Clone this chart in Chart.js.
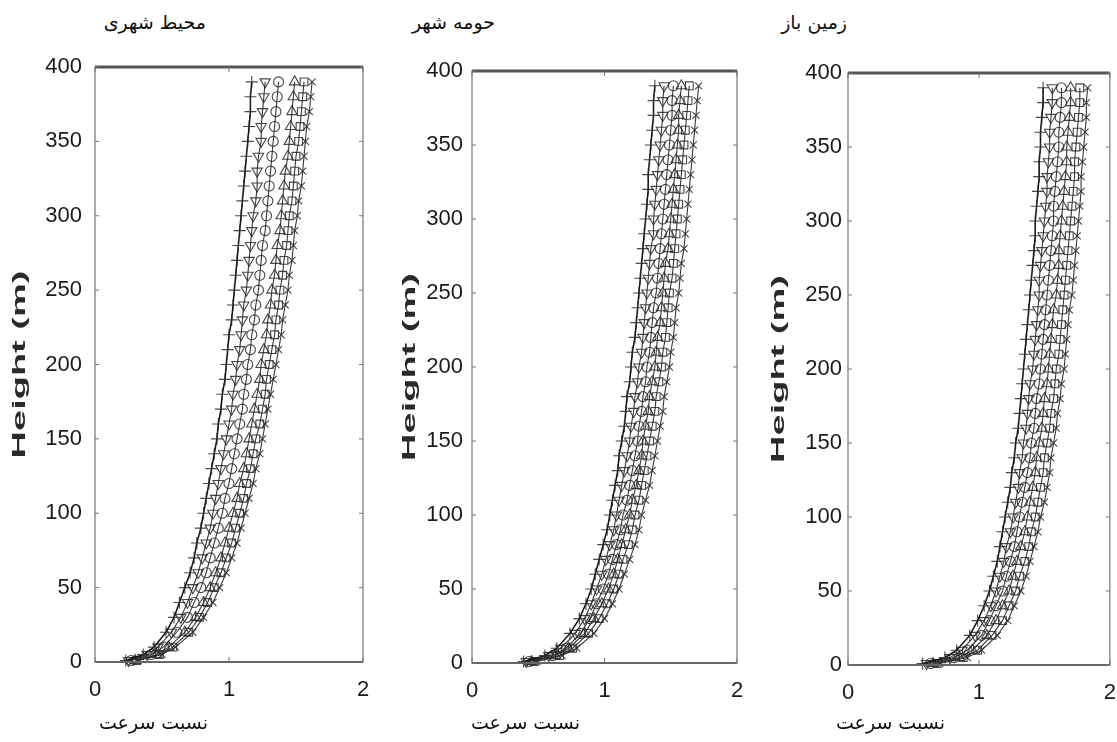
<!DOCTYPE html>
<html lang="fa">
<head>
  <meta charset="UTF-8" />
  <title>Height profiles - velocity ratio</title>
  <script src="https://cdn.jsdelivr.net/npm/chart.js@4.4.0/dist/chart.umd.min.js"></script>
  <style>
    body { margin: 0; background: #fff; }
    #page { position: relative; width: 1117px; height: 742px; overflow: hidden; background: #fff; }
    #page canvas { position: absolute; top: 40px; }
    .fa { position: absolute; direction: rtl; font-family: "DejaVu Sans", sans-serif; font-size: 19px; color: #111; white-space: nowrap; line-height: 24px; }
  </style>
</head>
<body>
  <div id="page">
    <canvas id="c1" width="375" height="680" style="left:0px"></canvas>
    <canvas id="c2" width="370" height="680" style="left:380px"></canvas>
    <canvas id="c3" width="367" height="680" style="left:750px"></canvas>

    <div class="fa" id="t1" style="top:10px; right:911px"></div>
    <div class="fa" id="t2" style="top:10px; right:622px"></div>
    <div class="fa" id="t3" style="top:10px; right:270px"></div>
    <div class="fa" id="b1" style="top:710px; right:909px"></div>
    <div class="fa" id="b2" style="top:710px; right:537px"></div>
    <div class="fa" id="b3" style="top:710px; right:172px"></div>
  </div>

  <script>
    // heights (m) shared by every profile
    const heights = [1, 5, 10, 20, 30, 40, 50, 60, 70, 80, 90, 100, 110, 120, 130, 140, 150, 160, 170, 180, 190,
      200, 210, 220, 230, 240, 250, 260, 270, 280, 290, 300, 310, 320, 330, 340, 350, 360, 370, 380, 390];

    const xTicks = [0, 1, 2];
    const yTicks = [0, 50, 100, 150, 200, 250, 300, 350, 400];

    const panelTitles = ['محیط شهری', 'حومه شهر', 'زمین باز'];
    const xTitle = 'نسبت سرعت';
    const yTitle = 'Height (m)';

    // urban
    const urban1 = [0.23,0.36,0.44,0.53,0.59,0.63,0.67,0.71,0.74,0.76,0.79,0.81,0.83,0.85,0.87,0.89,0.91,0.92,0.94,0.95,0.97,0.98,0.99,1.00,1.02,1.03,1.04,1.05,1.06,1.07,1.08,1.09,1.10,1.11,1.12,1.13,1.14,1.15,1.16,1.16,1.17];
    const urban2 = [0.25,0.39,0.47,0.57,0.64,0.69,0.73,0.77,0.80,0.83,0.86,0.88,0.90,0.92,0.94,0.96,0.98,1.00,1.02,1.03,1.05,1.06,1.08,1.09,1.10,1.11,1.13,1.14,1.15,1.16,1.17,1.18,1.20,1.21,1.21,1.22,1.24,1.24,1.25,1.26,1.27];
    const urban3 = [0.27,0.42,0.51,0.61,0.69,0.74,0.79,0.83,0.86,0.89,0.92,0.95,0.97,1.00,1.02,1.04,1.06,1.08,1.10,1.11,1.13,1.14,1.16,1.17,1.19,1.20,1.22,1.23,1.24,1.25,1.27,1.28,1.29,1.30,1.31,1.32,1.33,1.34,1.35,1.36,1.37];
    const urban4 = [0.30,0.46,0.55,0.67,0.75,0.81,0.86,0.90,0.94,0.97,1.00,1.03,1.06,1.08,1.11,1.13,1.15,1.17,1.19,1.21,1.23,1.24,1.26,1.28,1.29,1.31,1.32,1.34,1.35,1.36,1.38,1.39,1.40,1.41,1.42,1.44,1.45,1.46,1.47,1.48,1.49];
    const urban5 = [0.31,0.48,0.58,0.70,0.78,0.84,0.89,0.94,0.98,1.02,1.05,1.08,1.11,1.13,1.16,1.18,1.20,1.23,1.25,1.27,1.28,1.30,1.32,1.34,1.35,1.37,1.38,1.40,1.41,1.43,1.44,1.45,1.47,1.48,1.49,1.50,1.52,1.53,1.54,1.55,1.56];
    const urban6 = [0.32,0.50,0.60,0.73,0.81,0.88,0.93,0.98,1.02,1.06,1.09,1.12,1.15,1.18,1.20,1.23,1.25,1.27,1.29,1.31,1.33,1.35,1.37,1.39,1.40,1.42,1.44,1.45,1.47,1.48,1.49,1.51,1.52,1.54,1.55,1.56,1.57,1.58,1.60,1.61,1.62];

    // suburb (middle panel)
    const suburb1 = [0.39,0.55,0.64,0.74,0.81,0.86,0.90,0.93,0.96,0.99,1.02,1.04,1.06,1.08,1.10,1.11,1.13,1.15,1.16,1.17,1.19,1.20,1.21,1.23,1.24,1.25,1.26,1.27,1.28,1.29,1.30,1.31,1.32,1.33,1.33,1.34,1.35,1.36,1.37,1.37,1.38];
    const suburb2 = [0.41,0.58,0.67,0.78,0.85,0.90,0.94,0.98,1.01,1.04,1.07,1.09,1.11,1.13,1.15,1.17,1.19,1.20,1.22,1.23,1.25,1.26,1.28,1.29,1.30,1.31,1.32,1.33,1.34,1.35,1.37,1.37,1.38,1.39,1.40,1.41,1.42,1.43,1.44,1.44,1.45];
    const suburb3 = [0.43,0.61,0.71,0.82,0.89,0.94,0.99,1.03,1.06,1.09,1.12,1.14,1.17,1.19,1.21,1.23,1.25,1.26,1.28,1.29,1.31,1.32,1.34,1.35,1.36,1.37,1.39,1.40,1.41,1.42,1.43,1.44,1.45,1.46,1.47,1.48,1.49,1.50,1.51,1.51,1.52];
    const suburb4 = [0.45,0.63,0.73,0.85,0.92,0.98,1.03,1.07,1.10,1.13,1.16,1.19,1.21,1.24,1.26,1.28,1.29,1.31,1.33,1.34,1.36,1.38,1.39,1.40,1.42,1.43,1.44,1.45,1.46,1.48,1.49,1.50,1.51,1.52,1.53,1.54,1.55,1.56,1.56,1.57,1.58];
    const suburb5 = [0.47,0.66,0.76,0.88,0.96,1.02,1.07,1.11,1.14,1.18,1.21,1.23,1.26,1.28,1.30,1.32,1.34,1.36,1.38,1.39,1.41,1.43,1.44,1.46,1.47,1.48,1.49,1.51,1.52,1.53,1.54,1.55,1.56,1.57,1.58,1.59,1.60,1.61,1.62,1.63,1.64];
    const suburb6 = [0.49,0.68,0.79,0.92,1.00,1.06,1.11,1.15,1.19,1.23,1.26,1.28,1.31,1.34,1.36,1.38,1.40,1.42,1.44,1.45,1.47,1.49,1.50,1.52,1.53,1.54,1.56,1.57,1.58,1.60,1.61,1.62,1.63,1.64,1.65,1.66,1.67,1.68,1.69,1.70,1.71];

    // open land (right panel)
    const open1 = [0.57,0.74,0.83,0.93,0.99,1.04,1.08,1.11,1.14,1.16,1.18,1.20,1.22,1.24,1.25,1.27,1.28,1.30,1.31,1.32,1.33,1.34,1.35,1.36,1.37,1.38,1.39,1.40,1.41,1.42,1.43,1.43,1.44,1.45,1.46,1.46,1.47,1.47,1.48,1.49,1.49];
    const open2 = [0.60,0.78,0.87,0.97,1.04,1.09,1.13,1.16,1.19,1.21,1.24,1.26,1.28,1.30,1.31,1.33,1.34,1.36,1.37,1.38,1.39,1.41,1.42,1.43,1.44,1.45,1.46,1.46,1.47,1.48,1.49,1.50,1.51,1.52,1.52,1.53,1.54,1.54,1.55,1.56,1.56];
    const open3 = [0.63,0.81,0.91,1.02,1.08,1.13,1.18,1.21,1.24,1.27,1.29,1.31,1.33,1.35,1.37,1.39,1.40,1.42,1.43,1.44,1.46,1.47,1.48,1.49,1.50,1.51,1.52,1.53,1.54,1.55,1.56,1.57,1.57,1.58,1.59,1.60,1.61,1.61,1.62,1.63,1.63];
    const open4 = [0.65,0.85,0.95,1.06,1.13,1.18,1.23,1.26,1.29,1.32,1.35,1.37,1.39,1.41,1.43,1.44,1.46,1.48,1.49,1.50,1.52,1.53,1.54,1.55,1.56,1.57,1.59,1.60,1.61,1.61,1.62,1.63,1.64,1.65,1.66,1.67,1.67,1.68,1.69,1.70,1.70];
    const open5 = [0.68,0.88,0.99,1.10,1.18,1.23,1.28,1.31,1.35,1.38,1.40,1.43,1.45,1.47,1.49,1.50,1.52,1.54,1.55,1.57,1.58,1.59,1.61,1.62,1.63,1.64,1.65,1.66,1.67,1.68,1.69,1.70,1.71,1.72,1.73,1.73,1.74,1.75,1.76,1.77,1.77];
    const open6 = [0.70,0.91,1.02,1.14,1.22,1.27,1.32,1.36,1.39,1.42,1.45,1.47,1.50,1.52,1.54,1.55,1.57,1.59,1.60,1.62,1.63,1.65,1.66,1.67,1.68,1.69,1.71,1.72,1.73,1.74,1.75,1.76,1.77,1.78,1.78,1.79,1.80,1.81,1.82,1.82,1.83];

    // marker per profile (left to right)
    const markers = [
      { style: 'cross', rot: 0, r: 6 },
      { style: 'triangle', rot: 180, r: 6 },
      { style: 'circle', rot: 0, r: 5 },
      { style: 'triangle', rot: 0, r: 6 },
      { style: 'rect', rot: 0, r: 5.5 },
      { style: 'crossRot', rot: 0, r: 5 }
    ];

    const panels = [
      { id: 'c1', series: [urban1, urban2, urban3, urban4, urban5, urban6], padTop: 27, padRight: 12, yWidth: 95, xHeight: 58, tickPad: 13, yTitleX: 20 },
      { id: 'c2', series: [suburb1, suburb2, suburb3, suburb4, suburb5, suburb6], padTop: 31, padRight: 13, yWidth: 92, xHeight: 57, tickPad: 9, yTitleX: 30 },
      { id: 'c3', series: [open1, open2, open3, open4, open5, open6], padTop: 33, padRight: 1, yWidth: 98, xHeight: 55, tickPad: 6, yTitleX: 29 }
    ];

    const tickFont = { family: '"Liberation Sans Narrow", "Liberation Sans", sans-serif', size: 22 };

    // box, inward ticks and the stretched y title
    const framePlugin = {
      id: 'frame',
      afterDraw(chart, args, opts) {
        const { ctx, chartArea: a, scales: { x, y } } = chart;
        ctx.save();
        ctx.strokeStyle = '#777';
        ctx.lineWidth = 1.2;
        ctx.strokeRect(a.left, a.top, a.right - a.left, a.bottom - a.top);
        ctx.strokeStyle = '#555';
        ctx.lineWidth = 3;
        ctx.beginPath();
        ctx.moveTo(a.left, a.top);
        ctx.lineTo(a.right, a.top);
        ctx.stroke();
        ctx.lineWidth = 2;
        ctx.strokeStyle = '#666';
        ctx.beginPath();
        ctx.moveTo(a.left, a.bottom);
        ctx.lineTo(a.right, a.bottom);
        ctx.stroke();

        ctx.lineWidth = 1;
        ctx.strokeStyle = '#777';
        ctx.beginPath();
        yTicks.forEach(v => {
          const py = y.getPixelForValue(v);
          ctx.moveTo(a.left, py); ctx.lineTo(a.left + 4, py);
          ctx.moveTo(a.right, py); ctx.lineTo(a.right - 4, py);
        });
        xTicks.forEach(v => {
          const px = x.getPixelForValue(v);
          ctx.moveTo(px, a.bottom); ctx.lineTo(px, a.bottom - 5);
          ctx.moveTo(px, a.top); ctx.lineTo(px, a.top + 5);
        });
        ctx.stroke();

        ctx.translate(opts.titleX, (a.top + a.bottom) / 2);
        ctx.rotate(-Math.PI / 2);
        ctx.scale(2.0, 1);
        ctx.font = 'bold 19px "Liberation Sans", Arial, sans-serif';
        ctx.fillStyle = '#2a2a2a';
        ctx.textAlign = 'center';
        ctx.textBaseline = 'middle';
        ctx.fillText(yTitle, 0, 0);
        ctx.restore();
      }
    };

    panels.forEach((p, n) => {
      const datasets = p.series.map((vals, k) => ({
        data: vals.map((v, i) => ({ x: v, y: heights[i] })),
        showLine: true,
        borderColor: k === 0 ? '#111' : 'rgba(35,35,35,0.9)',
        borderWidth: k === 0 ? 1.5 : 1.1,
        pointStyle: markers[k].style,
        pointRotation: markers[k].rot,
        pointRadius: markers[k].r,
        pointBorderColor: 'rgba(40,40,40,0.85)',
        pointBackgroundColor: 'rgba(0,0,0,0)',
        pointBorderWidth: 1.1,
        clip: false
      }));

      new Chart(document.getElementById(p.id), {
        type: 'scatter',
        data: { datasets },
        options: {
          responsive: false,
          animation: false,
          devicePixelRatio: 1,
          layout: { padding: { top: p.padTop, right: p.padRight, left: 0, bottom: 0 } },
          plugins: {
            legend: { display: false },
            tooltip: { enabled: false },
            frame: { titleX: p.yTitleX }
          },
          scales: {
            x: {
              type: 'linear', min: 0, max: 2,
              ticks: { stepSize: 1, padding: 15, color: '#1a1a1a', font: tickFont },
              grid: { display: false, drawTicks: false },
              border: { display: false },
              afterFit: s => { s.height = p.xHeight; s.paddingLeft = 0; s.paddingRight = 0; }
            },
            y: {
              type: 'linear', min: 0, max: 400,
              ticks: { stepSize: 50, padding: p.tickPad, color: '#1a1a1a', font: tickFont },
              grid: { display: false, drawTicks: false },
              border: { display: false },
              afterFit: s => { s.width = p.yWidth; }
            }
          }
        },
        plugins: [framePlugin]
      });

      document.getElementById('t' + (n + 1)).textContent = panelTitles[n];
      document.getElementById('b' + (n + 1)).textContent = xTitle;
    });
  </script>
</body>
</html>
